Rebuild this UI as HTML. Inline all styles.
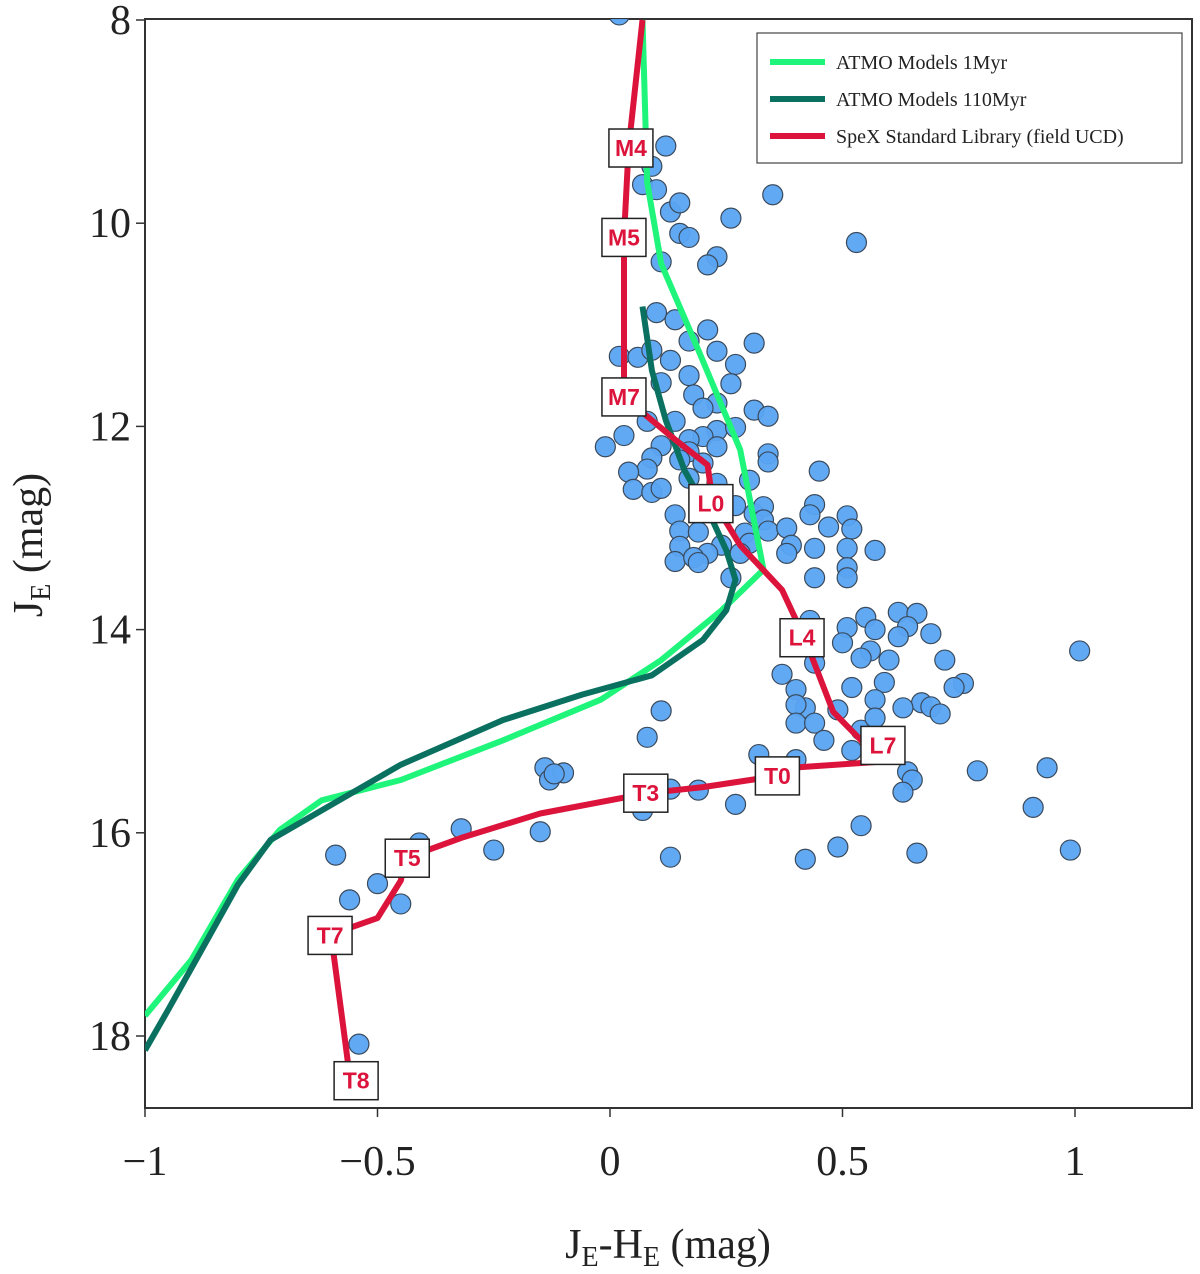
<!DOCTYPE html>
<html><head><meta charset="utf-8"><style>
body{margin:0;background:#fff}
svg{display:block}
text{font-family:"Liberation Serif",serif}
</style></head><body>
<svg id="chart" width="1200" height="1274" xmlns="http://www.w3.org/2000/svg">
<g id="axes"></g>
<g id="series"></g>
<g id="labels"></g>
<g id="legend"></g>
</svg>
<script>
const xTicks=[-1,-0.5,0,0.5,1];
const xTickLabels=["\u22121","\u22120.5","0","0.5","1"];
const yTicks=[8,10,12,14,16,18];
const yTickLabels=["8","10","12","14","16","18"];
const pointsX=[0.02,0.12,0.09,0.35,0.07,0.10,0.13,0.15,0.26,0.15,0.17,0.53,0.11,0.23,0.21,0.10,0.14,0.21,0.17,0.23,0.31,0.27,0.02,0.06,0.09,0.13,0.17,0.11,0.26,0.18,0.23,0.20,0.01,0.31,0.34,0.14,0.08,0.23,0.20,0.27,0.17,-0.01,0.03,0.11,0.17,0.23,0.09,0.15,0.20,0.34,0.34,0.08,0.04,0.05,0.09,0.11,0.17,0.23,0.30,0.21,0.45,0.14,0.27,0.31,0.33,0.33,0.44,0.43,0.51,0.47,0.52,0.15,0.19,0.29,0.34,0.38,0.30,0.39,0.44,0.24,0.15,0.21,0.28,0.51,0.14,0.18,0.51,0.57,0.26,0.38,0.44,0.51,0.19,0.43,0.62,0.55,0.57,0.66,0.64,0.62,0.69,0.51,0.56,0.50,0.44,0.72,0.54,0.60,0.76,0.74,0.37,0.40,0.52,0.59,0.57,0.49,0.42,0.40,0.67,0.69,0.71,0.63,0.40,0.44,0.54,0.57,0.46,1.01,0.94,0.79,0.64,0.91,0.99,0.65,0.11,0.08,0.32,0.40,0.52,0.63,0.66,0.54,0.49,0.42,0.37,0.27,0.19,0.13,0.07,0.13,-0.14,-0.13,-0.10,-0.12,-0.15,-0.25,-0.32,-0.41,-0.45,-0.50,-0.56,-0.59,-0.54];
const pointsY=[7.95,9.24,9.44,9.72,9.62,9.67,9.89,9.80,9.95,10.10,10.14,10.19,10.38,10.33,10.41,10.88,10.95,11.05,11.16,11.26,11.18,11.39,11.31,11.32,11.25,11.35,11.50,11.57,11.58,11.69,11.77,11.82,11.69,11.84,11.90,11.95,11.95,12.04,12.10,12.01,12.13,12.20,12.09,12.19,12.25,12.20,12.31,12.33,12.36,12.27,12.35,12.42,12.45,12.62,12.65,12.61,12.51,12.56,12.53,12.68,12.44,12.87,12.78,12.86,12.79,12.92,12.77,12.87,12.88,12.99,13.01,13.03,13.04,13.05,13.03,13.00,13.15,13.17,13.20,13.17,13.18,13.25,13.25,13.20,13.33,13.29,13.39,13.22,13.49,13.25,13.49,13.49,13.34,13.91,13.83,13.88,14.00,13.84,13.97,14.07,14.04,13.98,14.21,14.13,14.33,14.30,14.28,14.30,14.53,14.57,14.44,14.59,14.57,14.52,14.69,14.79,14.77,14.74,14.72,14.76,14.83,14.77,14.92,14.92,14.99,14.87,15.09,14.21,15.36,15.39,15.40,15.75,16.17,15.48,14.80,15.06,15.23,15.28,15.19,15.60,16.20,15.93,16.14,16.26,15.52,15.72,15.58,15.57,15.78,16.24,15.36,15.48,15.41,15.42,15.99,16.17,15.96,16.10,16.70,16.50,16.66,16.22,18.08];
const atmo1X=[0.07,0.08,0.11,0.19,0.28,0.33,0.24,0.11,-0.02,-0.23,-0.45,-0.62,-0.71,-0.80,-0.90,-1.0];
const atmo1Y=[8,9.6,10.4,11.25,12.23,13.41,13.81,14.3,14.69,15.09,15.48,15.68,15.97,16.46,17.25,17.8];
const atmo110X=[0.07,0.09,0.12,0.16,0.22,0.25,0.27,0.25,0.20,0.09,-0.06,-0.23,-0.45,-0.73,-0.80,-0.89,-0.95,-1.0];
const atmo110Y=[10.82,11.45,11.94,12.43,12.92,13.22,13.51,13.81,14.10,14.45,14.64,14.89,15.33,16.07,16.51,17.25,17.74,18.14];
const spexX=[0.07,0.04,0.03,0.03,0.03,0.09,0.14,0.21,0.22,0.28,0.37,0.42,0.48,0.54,0.58,0.39,0.36,0.20,0.08,-0.15,-0.32,-0.44,-0.45,-0.50,-0.60,-0.57,-0.56];
const spexY=[8,9.26,10.13,11.25,11.71,11.94,12.13,12.38,12.72,13.17,13.61,14.10,14.81,15.09,15.30,15.36,15.44,15.55,15.61,15.81,16.05,16.25,16.47,16.84,17.00,18.04,18.39];
const sptNames=["M4","M5","M7","L0","L4","L7","T0","T3","T5","T7","T8"];
const sptX=[0.045,0.03,0.03,0.217,0.413,0.587,0.36,0.077,-0.436,-0.602,-0.546];
const sptY=[9.26,10.14,11.71,12.76,14.08,15.14,15.44,15.61,16.25,17.01,18.44];

const X0=145,XS=465,Y0=20,YS=101.6;
const L=145,R=1192,T=19,B=1108;
function sx(v){return X0+(v+1)*XS;}
function sy(v){return Y0+(v-8)*YS;}
const NS="http://www.w3.org/2000/svg";
function mk(tag,attrs,parent){const e=document.createElementNS(NS,tag);for(const k in attrs)e.setAttribute(k,attrs[k]);parent.appendChild(e);return e;}
const axes=document.getElementById('axes'),series=document.getElementById('series'),labels=document.getElementById('labels'),legend=document.getElementById('legend');

const frame=mk('rect',{x:L,y:T,width:R-L,height:B-T,fill:'none',stroke:'#333','stroke-width':2},axes);


xTicks.forEach((t,i)=>{
  const x=sx(t);
  const tk=mk('line',{x1:x,x2:x,y1:B,y2:B+9,stroke:'#333','stroke-width':1.5},axes);
  
  
  const tx=mk('text',{x:x,y:1175,'text-anchor':'middle','font-size':42,fill:'#222'},axes);
  tx.textContent=xTickLabels[i];
  
  
});
yTicks.forEach((t,i)=>{
  const y=sy(t);
  const tk=mk('line',{x1:L-9,x2:L,y1:y,y2:y,stroke:'#333','stroke-width':1.5},axes);
  
  
  const tx=mk('text',{x:L-14,y:y+14,'text-anchor':'end','font-size':42,fill:'#222'},axes);
  tx.textContent=yTickLabels[i];
  
  
});
const xt=mk('text',{x:668,y:1258,'text-anchor':'middle','font-size':42,fill:'#222'},axes);
xt.innerHTML='J<tspan font-size="28" dy="8">E</tspan><tspan dy="-8">-H</tspan><tspan font-size="28" dy="8">E</tspan><tspan dy="-8"> (mag)</tspan>';


const yt=mk('text',{x:0,y:0,'text-anchor':'middle','font-size':42,fill:'#222',transform:'translate(42,545) rotate(-90)'},axes);
yt.innerHTML='J<tspan font-size="28" dy="8">E</tspan><tspan dy="-8"> (mag)</tspan>';



const clip=mk('clipPath',{id:'pc'},series);
mk('rect',{x:L,y:T,width:R-L,height:B-T},clip);
const g=mk('g',{'clip-path':'url(#pc)'},series);

pointsX.forEach((v,i)=>{
  const c=mk('circle',{cx:sx(v),cy:sy(pointsY[i]),r:10,fill:'#5aa4f2',stroke:'#3a4a5c','stroke-width':1.2,'fill-opacity':0.95},g);
  
  
});
function line(xs,ys,color,name){
  const d=xs.map((v,i)=>(i?'L':'M')+sx(v).toFixed(1)+','+sy(ys[i]).toFixed(1)).join(' ');
  const p=mk('path',{d:d,fill:'none',stroke:color,'stroke-width':6,'stroke-linejoin':'round','stroke-linecap':'butt'},g);
  
  
}
line(atmo1X,atmo1Y,'#1ef57a','atmo-1myr-line');
line(atmo110X,atmo110Y,'#0a7060','atmo-110myr-line');
line(spexX,spexY,'#dc143c','spex-standard-line');

sptNames.forEach((n,i)=>{
  const x=sx(sptX[i]),y=sy(sptY[i]);
  const r=mk('rect',{x:x-22,y:y-19,width:44,height:38,fill:'#fff',stroke:'#222','stroke-width':1.5},labels);
  
  
  const t=mk('text',{x:x,y:y+8,'text-anchor':'middle','font-size':23,'font-weight':'bold',fill:'#dc143c',style:'font-family:"Liberation Sans",sans-serif'},labels);
  t.textContent=n;
  
  
});

const lb=mk('rect',{x:757,y:33,width:425,height:130,fill:'#fff',stroke:'#444','stroke-width':1.2},legend);


const legNames=['ATMO Models 1Myr','ATMO Models 110Myr','SpeX Standard Library (field UCD)'];
const legColors=['#1ef57a','#0a7060','#dc143c'];
legNames.forEach((n,i)=>{
  const y=62+i*37;
  const ln=mk('line',{x1:770,x2:825,y1:y,y2:y,stroke:legColors[i],'stroke-width':6},legend);
  
  
  const t=mk('text',{x:836,y:y+7,'font-size':20,fill:'#222'},legend);
  t.textContent=n;
  
  
});
</script>
</body></html>
